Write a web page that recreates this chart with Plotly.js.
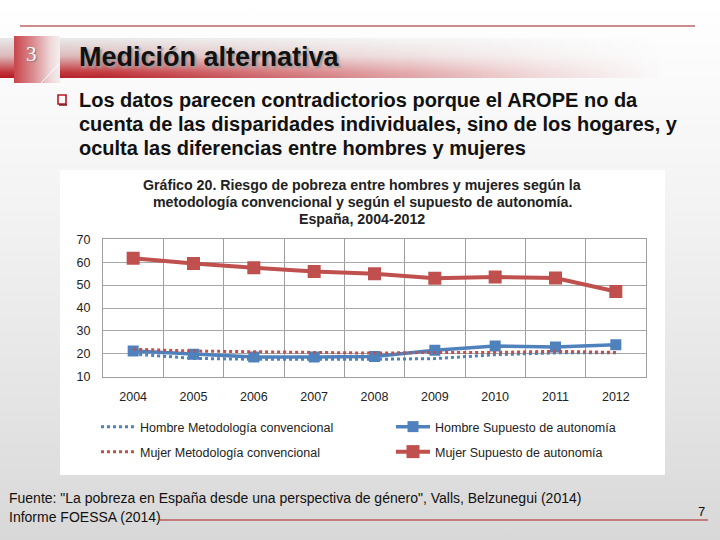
<!DOCTYPE html>
<html>
<head>
<meta charset="utf-8">
<script src="https://cdn.plot.ly/plotly-3.0.1.min.js"></script>
<style>
  html, body { margin:0; padding:0; width:720px; height:540px; overflow:hidden; }
  body { background: linear-gradient(to bottom, #ffffff 0%, #f4f4f4 35%, #e4e4e4 75%, #d8d8d8 100%); position:relative; font-family:"Liberation Sans", Arial, sans-serif; }
  #banner { position:absolute; left:0; top:38px; width:720px; height:40px;
    background: linear-gradient(to bottom, #e9e9e9 0%, #dcb9ba 45%, #c1343a 85%, #b31a22 100%);
    -webkit-mask-image: linear-gradient(to right, rgba(0,0,0,1) 0%, rgba(0,0,0,0.95) 15%, rgba(0,0,0,0.55) 45%, rgba(0,0,0,0.15) 75%, rgba(0,0,0,0) 92%);
    mask-image: linear-gradient(to right, rgba(0,0,0,1) 0%, rgba(0,0,0,0.95) 15%, rgba(0,0,0,0.55) 45%, rgba(0,0,0,0.15) 75%, rgba(0,0,0,0) 92%); }
  #numbox { position:absolute; left:14px; top:36px; width:46px; height:47px;
    background: linear-gradient(to right, #c8454b 0%, #dc9295 45%, #efd9da 80%, #f4eeee 100%); }
  #chart { position:absolute; left:0; top:0; width:720px; height:540px; }
</style>
</head>
<body>
<div id="banner"></div>
<div id="numbox"></div>
<div id="chart"></div>
<script>
// ---- data ----
const years = ['2004','2005','2006','2007','2008','2009','2010','2011','2012'];
const hombreConvencional = [19.9, 18.0, 17.6, 17.5, 17.6, 17.9, 19.6, 20.4, 20.5];
const hombreAutonomia   = [21.2, 19.8, 18.6, 18.6, 18.8, 21.6, 23.4, 23.0, 23.9];
const mujerConvencional = [22.0, 21.2, 20.9, 20.6, 20.3, 20.6, 20.6, 21.1, 20.6];
const mujerAutonomia    = [61.7, 59.4, 57.6, 55.9, 55.0, 53.0, 53.5, 53.1, 47.2];
const seriesNames = ['Hombre Metodología convencional','Hombre Supuesto de autonomía',
                     'Mujer Metodología convencional','Mujer Supuesto de autonomía'];
const yTicks = [10, 20, 30, 40, 50, 60, 70];
const chartTitle = ['Gráfico 20. Riesgo de pobreza entre hombres y mujeres según la',
                    'metodología convencional y según el supuesto de autonomía.',
                    'España, 2004-2012'];
const slideTitle = 'Medición alternativa';
const bulletLines = ['Los datos parecen contradictorios porque el AROPE no da',
                     'cuenta de las disparidades individuales, sino de los hogares, y',
                     'oculta las diferencias entre hombres y mujeres'];
const sourceLines = ['Fuente: "La pobreza en España desde una perspectiva de género", Valls, Belzunegui (2014)',
                     'Informe FOESSA (2014)'];

// ---- helpers ----
const W = 720, H = 540;
const px = x => x / W;
const py = y => 1 - y / H;
const BLUE = '#4F81BD', RED = '#C0504D';
const FONT = 'Liberation Sans, Arial, sans-serif';

const traces = [
  {x: years, y: hombreConvencional, name: seriesNames[0], mode: 'lines',
   line: {color: BLUE, width: 3, dash: '3px,3px'}, legend: 'legend'},
  {x: years, y: hombreAutonomia, name: seriesNames[1], mode: 'lines+markers',
   line: {color: BLUE, width: 3.5}, marker: {symbol: 'square', size: 11, color: BLUE}, legend: 'legend2'},
  {x: years, y: mujerConvencional, name: seriesNames[2], mode: 'lines',
   line: {color: RED, width: 3, dash: '3px,3px'}, legend: 'legend3'},
  {x: years, y: mujerAutonomia, name: seriesNames[3], mode: 'lines+markers',
   line: {color: RED, width: 4}, marker: {symbol: 'square', size: 13, color: RED}, legend: 'legend4'}
];

const annotations = [];
function txt(x, y, text, font, xanchor) {
  annotations.push({xref:'paper', yref:'paper', x: px(x), y: py(y), text: text, showarrow: false,
    xanchor: xanchor || 'left', yanchor: 'middle', font: font});
}
// slide header
txt(77, 57, slideTitle, {family: FONT, size: 27, color: '#111', weight: 'bold', shadow: '2px 2px 2px #9a9a9a'});
txt(24, 54, '3', {family: 'Liberation Serif, serif', size: 21, color: '#ffffff', shadow: '1px 1px 1px #777'});
// bullets
bulletLines.forEach((t, i) => txt(77, 100 + i * 24, t, {family: FONT, size: 20, color: '#111', weight: 'bold'}));
// chart title
chartTitle.forEach((t, i) => txt(362, 185 + i * 17, t, {family: FONT, size: 14.2, color: '#222', weight: 'bold'}, 'center'));
// footer
txt(7, 498, sourceLines[0], {family: FONT, size: 14, color: '#111'});
txt(7, 517, sourceLines[1], {family: FONT, size: 14, color: '#111'});
txt(696, 511, '7', {family: FONT, size: 13, color: '#111'});

const shapes = [
  {type:'rect', xref:'paper', yref:'paper', x0:px(60), x1:px(665), y0:py(475), y1:py(170),
   fillcolor:'#ffffff', line:{width:0}, layer:'below'},
  {type:'line', xref:'paper', yref:'paper', x0:px(20), x1:px(695), y0:py(26), y1:py(26),
   line:{color:'#9b1b1f', width:1}},
  {type:'line', xref:'paper', yref:'paper', x0:px(160), x1:px(708), y0:py(520), y1:py(520),
   line:{color:'#b01c22', width:1}},
  {type:'line', xref:'paper', yref:'paper', x0:px(41), x1:px(60), y0:py(83), y1:py(63),
   line:{color:'#ffffff', width:1}},
  {type:'rect', xref:'paper', yref:'paper', x0:px(58), x1:px(66), y0:py(104), y1:py(95),
   fillcolor:'rgba(0,0,0,0)', line:{color:'#b11c24', width:1.6}},
  {type:'line', xref:'paper', yref:'paper', x0:px(59), x1:px(67), y0:py(105), y1:py(105),
   line:{color:'#7d1418', width:1.5}}
];

function leg(x, y) {
  return {x: px(x), y: py(y), xanchor: 'left', yanchor: 'middle', bgcolor: 'rgba(0,0,0,0)',
    borderwidth: 0, itemwidth: 34, font: {family: FONT, size: 12.5, color: '#222'}};
}

const layout = {
  width: W, height: H,
  margin: {l:0, r:0, t:0, b:0},
  paper_bgcolor: 'rgba(0,0,0,0)',
  plot_bgcolor: '#ffffff',
  font: {family: FONT, color: '#222'},
  showlegend: true,
  xaxis: {
    type: 'category', domain: [px(103), px(646)], range: [-0.5, 8.5],
    tickson: 'boundaries', showgrid: true, gridcolor: '#9e9e9e', gridwidth: 1,
    showline: true, linecolor: '#9e9e9e', linewidth: 1, mirror: true,
    ticks: '', ticklabelstandoff: 8, tickfont: {family: FONT, size: 12.5, color: '#222'},
    zeroline: false, fixedrange: true
  },
  yaxis: {
    domain: [py(376.7), py(239.3)], range: [10, 70],
    tickmode: 'array', tickvals: yTicks, ticktext: yTicks.map(String),
    showgrid: true, gridcolor: '#a8a8a8', gridwidth: 1,
    showline: true, linecolor: '#9e9e9e', linewidth: 1, mirror: true,
    ticks: '', ticklabelstandoff: 9, tickfont: {family: FONT, size: 12.5, color: '#222'},
    zeroline: false, fixedrange: true
  },
  legend: leg(96, 427),
  legend2: leg(391, 427),
  legend3: leg(96, 452),
  legend4: leg(391, 452),
  annotations: annotations,
  shapes: shapes
};

Plotly.newPlot('chart', traces, layout, {displayModeBar: false, staticPlot: true});
</script>
</body>
</html>
